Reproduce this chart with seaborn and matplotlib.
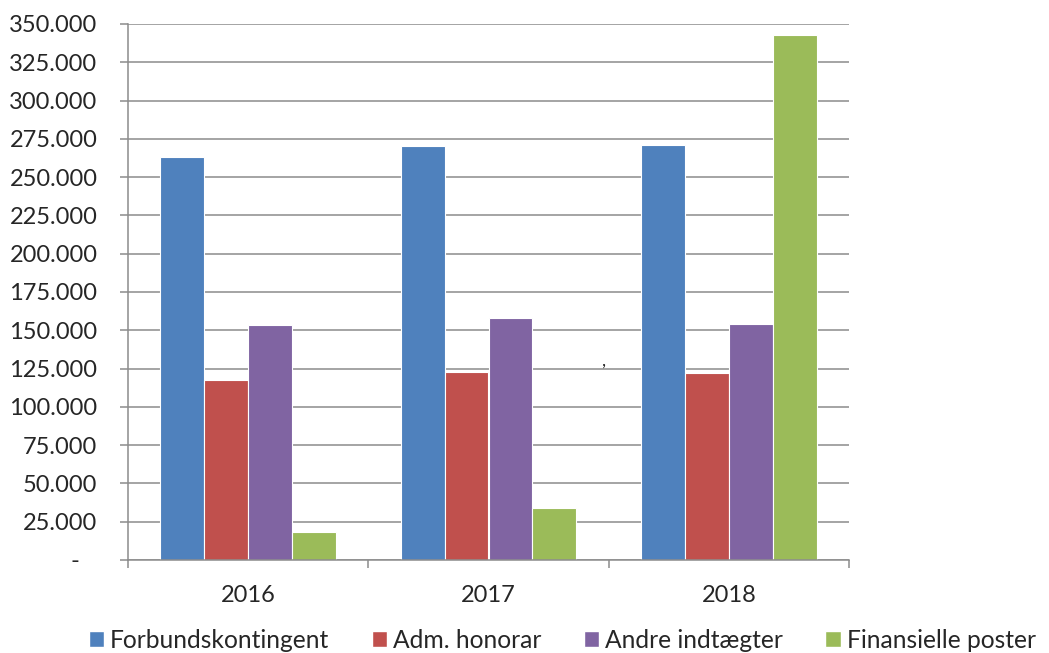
import pandas as pd
import matplotlib.pyplot as plt
import seaborn as sns
from matplotlib.patches import Patch
from matplotlib.ticker import FuncFormatter, FixedLocator


years = ['2016', '2017', '2018']
series = ['Forbundskontingent', 'Adm. honorar', 'Andre indtægter', 'Finansielle poster']
forbund = [263000, 270300, 270900]
adm = [117600, 122700, 122300]
andre = [153400, 158000, 154100]
finans = [18300, 34000, 342800]
colors = ['#4F81BD', '#C0504D', '#8064A2', '#9BBB59']

rows = []
for name, vals in zip(series, [forbund, adm, andre, finans]):
    for y, v in zip(years, vals):
        rows.append({'year': y, 'series': name, 'value': v})
df = pd.DataFrame(rows)

sns.set_style('white')
plt.rcParams['font.family'] = ['Lato', 'DejaVu Sans']

fig = plt.figure(figsize=(10.49, 6.53), dpi=100)
ax = fig.add_axes([128 / 1049, 1 - 560 / 653, (849 - 128) / 1049, (560 - 24) / 653])

sns.barplot(data=df, x='year', y='value', hue='series', palette=colors, saturation=1,
            width=0.73, edgecolor='white', linewidth=0.8, ax=ax, legend=False)

grid_c = '#8c8c8c'
fs = 17
ax.set_ylim(0, 350000)
ax.set_xlim(-0.5, 2.5)
ax.set_yticks(range(0, 350001, 25000))
ax.yaxis.set_major_formatter(FuncFormatter(
    lambda v, p: '-   ' if v == 0 else f'{int(v):,}'.replace(',', '.')))
ax.grid(axis='y', color=grid_c, linewidth=1.1)
ax.set_axisbelow(True)
ax.tick_params(axis='y', length=6, width=1.1, color=grid_c, pad=16, labelsize=fs, left=True)
ax.tick_params(axis='x', length=0, pad=18, labelsize=fs)
ax.xaxis.set_minor_locator(FixedLocator([-0.5, 0.5, 1.5, 2.5]))
ax.tick_params(axis='x', which='minor', length=6, width=1.1, color=grid_c, bottom=True)
for s in ['top', 'right']:
    ax.spines[s].set_visible(False)
for s in ['left', 'bottom']:
    ax.spines[s].set_color(grid_c)
    ax.spines[s].set_linewidth(1.1)
ax.set_xlabel('')
ax.set_ylabel('')

ax.text(1.48, 125000, ',', fontsize=13, ha='center', va='bottom')

handles = [Patch(facecolor=c) for c in colors]
fig.legend(handles, series, loc='center', bbox_to_anchor=(0.536, 13 / 653), ncol=4,
           frameon=False, fontsize=17.7, handlelength=0.62, handleheight=0.62,
           handletextpad=0.25, columnspacing=1.72, borderpad=0, borderaxespad=0)

plt.savefig('out.png', dpi=100)
